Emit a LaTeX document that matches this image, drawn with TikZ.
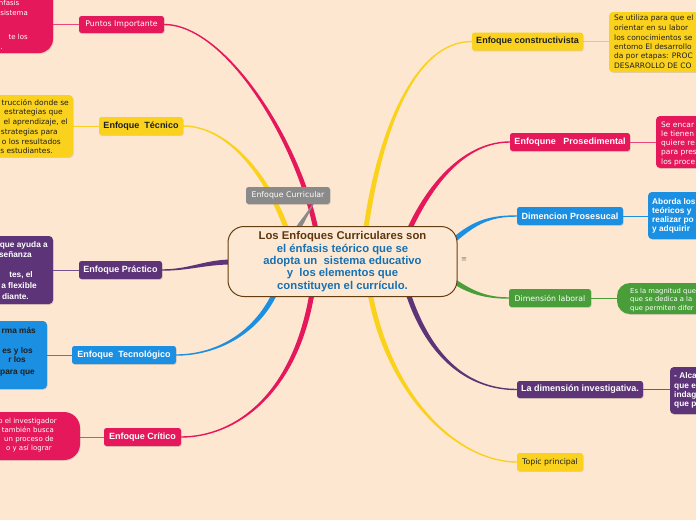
\documentclass[tikz,border=0pt]{standalone}
\usepackage{fontspec}
\setmainfont{Liberation Sans}
\newfontfamily\vf{DejaVu Sans}
\usetikzlibrary{calc,shadows}
\definecolor{bgc}{RGB}{253,231,208}
\definecolor{cfill}{RGB}{253,233,211}
\definecolor{cbr}{RGB}{100,62,18}
\definecolor{cbrt}{RGB}{92,54,16}
\definecolor{cbl}{RGB}{24,112,178}
\definecolor{pk}{RGB}{230,24,92}
\definecolor{yl}{RGB}{250,210,30}
\definecolor{bl}{RGB}{27,143,226}
\definecolor{gn}{RGB}{73,158,58}
\definecolor{pu}{RGB}{94,52,120}
\definecolor{gy}{RGB}{138,138,138}
\definecolor{dk}{RGB}{30,30,30}
\pgfdeclarelayer{back}
\pgfdeclarelayer{bg}
\pgfsetlayers{back,bg,main}
\newcommand\brch[5]{%
  \path #2 coordinate (bs) #3 coordinate (bc) #4 coordinate (bd) #5 coordinate (be);
  \path ($(bs)!2.5pt!90:(bc)$) coordinate (bsl) ($(bs)!2.5pt!-90:(bc)$) coordinate (bsr)
        ($(be)!0.7pt!-90:(bd)$) coordinate (bel) ($(be)!0.7pt!90:(bd)$) coordinate (ber);
  \fill[#1] (bsl) .. controls ($(bc)+(bsl)-(bs)$) and ($(bd)+(bel)-(be)$) .. (bel)
     -- (ber) .. controls ($(bd)+(ber)-(be)$) and ($(bc)+(bsr)-(bs)$) .. (bsr) -- cycle;
}
\begin{document}
\begin{tikzpicture}[x=1pt,y=-1pt,
  shd/.style={drop shadow={shadow xshift=0.6pt,shadow yshift=-0.9pt,opacity=0.25}},
  base/.style={shd,rounded corners=2.5pt, minimum height=17pt, inner sep=0pt},
  tb/.style={base, font=\bfseries\fontsize{9}{10}\selectfont},
  tn/.style={base, font=\vf\fontsize{7.8}{9}\selectfont},
  leaf/.style={shd,rounded corners=4pt, inner sep=0pt},
  ft/.style={inner sep=0pt, font=\vf\fontsize{7.5}{9}\selectfont},
  fs/.style={inner sep=0pt, font=\vf\fontsize{7}{9}\selectfont},
  fb/.style={inner sep=0pt, font=\bfseries\fontsize{8.3}{9}\selectfont},
  lk/.style={line width=1pt}
]
\useasboundingbox (0,0) rectangle (696,520);
\begin{pgfonlayer}{back}
\fill[bgc] (0,0) rectangle (696,520);
\end{pgfonlayer}

% topic nodes
\node[tn, fill=pk, text=white, minimum width=85pt] (pi) at (121.5,24.5) {Puntos Importante};
\node[tb, fill=yl, text=dk, minimum width=84pt, minimum height=18pt] (tec) at (141,126) {Enfoque~ Técnico};
\node[tb, fill=pu, text=white, minimum width=83pt, minimum height=18pt] (prac) at (120.5,270) {Enfoque Práctico};
\node[tb, fill=bl, text=white, minimum width=104pt, minimum height=18pt] (tecno) at (124,355) {Enfoque~ Tecnológico};
\node[tb, fill=pk, text=white, minimum width=77pt, minimum height=18pt] (crit) at (142.5,437) {Enfoque Crítico};
\node[tn, fill=gy, text=white, minimum width=84pt] (ec) at (288,195.5) {Enfoque Curricular};
\node[tb, fill=yl, text=dk, minimum width=111pt, minimum height=18pt] (cons) at (527.5,41.5) {Enfoque constructivista};
\node[tb, fill=pk, text=white, minimum width=120pt, minimum height=18pt] (pros) at (570,142) {Enfoqune~~ Prosedimental};
\node[tb, fill=bl, text=white, minimum width=106pt, minimum height=18pt] (dim) at (570,216) {Dimencion Prosesucal};
\node[tn, fill=gn, text=white, minimum width=82pt, minimum height=18pt] (lab) at (550,298) {Dimensión laboral};
\node[tb, fill=pu, text=white, minimum width=126pt] (inv) at (580,389.5) {La dimensión investigativa.};
\node[tn, fill=yl, text=dk, minimum width=66pt, minimum height=18pt] (top) at (550,462) {Topic principal};

% central node
\node[draw=cbr, line width=1pt, fill=cfill, rounded corners=16pt, minimum width=229pt, minimum height=70pt,
      inner sep=0pt, align=center, text=cbl, font=\bfseries\fontsize{11.3}{12.3}\selectfont] (c) at (342.5,261.5)
 {\textcolor{cbrt}{Los Enfoques Curriculares son}\\el énfasis teórico que se\\adopta un~ sistema educativo\\y~ los elementos que\\constituyen el currículo.};
\node[inner sep=0pt, text=gray, font=\vf\fontsize{7}{8}\selectfont] (menu) at (464,260) {≡};

% leaf boxes
\node[leaf, rounded corners=14pt, fill=pk, minimum width=133pt, minimum height=73pt] (lpi) at (-13.5,16.5) {};
\node[leaf, fill=yl, minimum width=133pt, minimum height=62pt] (ltec) at (6.5,126) {};
\node[leaf, fill=pu, minimum width=133pt, minimum height=68pt] (lprac) at (-13.5,270) {};
\node[leaf, fill=bl, minimum width=127pt, minimum height=68pt] (ltecno) at (-16.5,355) {};
\node[leaf, rounded corners=16pt, fill=pk, minimum width=160pt, minimum height=48pt] (lcrit) at (0,436) {};
\node[leaf, fill=yl, minimum width=151pt, minimum height=60pt] (lcons) at (684.5,42) {};
\node[leaf, fill=pk, minimum width=144pt, minimum height=52pt] (lpros) at (728,142) {};
\node[leaf, fill=bl, minimum width=152pt, minimum height=47pt] (ldim) at (724,215.5) {};
\node[leaf, rounded corners=13pt, fill=gn, minimum width=183pt, minimum height=31pt] (llab) at (708.5,298.5) {};
\node[leaf, fill=pu, minimum width=130pt, minimum height=47pt] (linv) at (735,390.5) {};

% leaf texts left
\node[fs, text=white, anchor=base east] (pa) at (19.5,5.8) {énfasis};
\node[fs, text=white, anchor=base east] (pb) at (28,15.5) {sistema};
\node[fs, text=white, anchor=base east] (pc) at (28,39.5) {te los};
\node[fs, text=white, anchor=base east] (pd) at (3,49.5) {.};

\node[ft, text=dk, anchor=base east] (ta) at (69,105.5) {trucción donde se};
\node[ft, text=dk, anchor=base east] (tb2) at (63,114.5) {estrategias que};
\node[ft, text=dk, anchor=base east] (tc) at (68,124.5) {el aprendizaje, el};
\node[ft, text=dk, anchor=base east] (td) at (58,134.5) {strategias para};
\node[ft, text=dk, anchor=base east] (te) at (61,144.5) {o los resultados};
\node[ft, text=dk, anchor=base east] (tf) at (53,153.5) {s estudiantes.};

\node[fb, text=white, anchor=base east] (ra) at (48,247) {que ayuda a};
\node[fb, text=white, anchor=base east] (rb) at (32,257) {señanza};
\node[fb, text=white, anchor=base east] (rc) at (33,277) {tes, el};
\node[fb, text=white, anchor=base east] (rd) at (37,288) {a flexible};
\node[fb, text=white, anchor=base east] (re) at (29,299) {diante.};

\node[fb, text=dk, anchor=base east] (na) at (36,333) {rma más};
\node[fb, text=dk, anchor=base east] (nb) at (33,353) {es y los};
\node[fb, text=dk, anchor=base east] (nc) at (26,362) {r los};
\node[fb, text=dk, anchor=base east] (nd) at (35,374) {para que};

\node[fs, text=white, anchor=base east] (ka) at (57,423) {o el investigador};
\node[fs, text=white, anchor=base east] (kb) at (54,432) {también busca};
\node[fs, text=white, anchor=base east] (kc) at (54,441) {un proceso de};
\node[fs, text=white, anchor=base east] (kd) at (52,450) {o y así lograr};

% leaf texts right
\node[ft, text=dk, anchor=base west] (sa) at (614,20.5) {Se utiliza para que el};
\node[ft, text=dk, anchor=base west] (sb) at (614,30.5) {orientar en su labor};
\node[ft, text=dk, anchor=base west] (sc) at (614,40.5) {los conocimientos se};
\node[ft, text=dk, anchor=base west] (sd) at (614,49.5) {entomo El desarrollo};
\node[ft, text=dk, anchor=base west] (se) at (614,58.5) {da por etapas: PROC};
\node[ft, text=dk, anchor=base west] (sf) at (614,68.5) {DESARROLLO DE CO};

\node[ft, text=white, anchor=base west] (ea) at (661,127.5) {Se encar};
\node[ft, text=white, anchor=base west] (eb) at (661,136.5) {le tienen};
\node[ft, text=white, anchor=base west] (ecc) at (661,145.5) {quiere re};
\node[ft, text=white, anchor=base west] (ed) at (661,154.5) {para pres};
\node[ft, text=white, anchor=base west] (ee) at (661,164.5) {los proce};

\node[fb, text=white, anchor=base west] (da) at (652,204) {Aborda los};
\node[fb, text=white, anchor=base west] (db) at (652,213) {teóricos y};
\node[fb, text=white, anchor=base west] (dc) at (652,222) {realizar po};
\node[fb, text=white, anchor=base west] (dd) at (652,231) {y adquirir};

\node[inner sep=0pt, text=white, font=\vf\fontsize{6.8}{8}\selectfont, anchor=base west] (ga) at (630,293) {Es la magnitud que};
\node[inner sep=0pt, text=white, font=\vf\fontsize{6.8}{8}\selectfont, anchor=base west] (gb) at (630,301.5) {que se dedica a la};
\node[inner sep=0pt, text=white, font=\vf\fontsize{6.8}{8}\selectfont, anchor=base west] (gc) at (630,310) {que permiten difer};

\node[fb, text=white, anchor=base west] (ia) at (674,378) {- Alca};
\node[fb, text=white, anchor=base west] (ib) at (674,388) {que e};
\node[fb, text=white, anchor=base west] (ic) at (674,397) {indag};
\node[fb, text=white, anchor=base west] (id) at (674,406) {que p};

% branches
\begin{pgfonlayer}{bg}
\brch{pk}{(316,230)}{(298,140)}{(225,24.5)}{(pi.east)}
\brch{yl}{(287,230)}{(265,170)}{(225,126)}{(tec.east)}
\brch{pu}{(232,262)}{(205,262)}{(190,270)}{(prac.east)}
\brch{bl}{(275,293)}{(255,335)}{(215,355)}{(tecno.east)}
\brch{pk}{(312,293)}{(295,395)}{(235,437)}{(crit.east)}
\brch{gy}{(297,230)}{(302,222)}{(308,213)}{($(ec.south)+(25,0)$)}
\brch{yl}{(366,228)}{(380,130)}{(415,41.5)}{(cons.west)}
\brch{pk}{(410,228)}{(435,175)}{(470,142)}{(pros.west)}
\brch{bl}{(454,240)}{(475,222)}{(490,216)}{(dim.west)}
\brch{gn}{(452,280)}{(470,292)}{(485,298)}{(lab.west)}
\brch{pu}{(408,293)}{(430,360)}{(470,389.5)}{(inv.west)}
\brch{yl}{(370,293)}{(390,400)}{(460,462)}{(top.west)}
% leaf links
\draw[lk, pk!80!white] (pi.west) -- (pi.west -| lpi.east);
\draw[lk, yl] (tec.west) -- (tec.west -| ltec.east);
\draw[lk, pu!85!white] (prac.west) -- (prac.west -| lprac.east);
\draw[lk, bl] (tecno.west) -- (tecno.west -| ltecno.east);
\draw[lk, pk!80!white] (crit.west) -- (crit.west -| lcrit.east);
\draw[lk, yl] (cons.east) -- (cons.east -| lcons.west);
\draw[lk, pk!80!white] (pros.east) -- (pros.east -| lpros.west);
\draw[lk, bl] (dim.east) -- (dim.east -| ldim.west);
\draw[lk, gn] (lab.east) -- (lab.east -| llab.west);
\draw[lk, pu!85!white] (inv.east) -- (inv.east -| linv.west);
\end{pgfonlayer}
\end{tikzpicture}
\end{document}
